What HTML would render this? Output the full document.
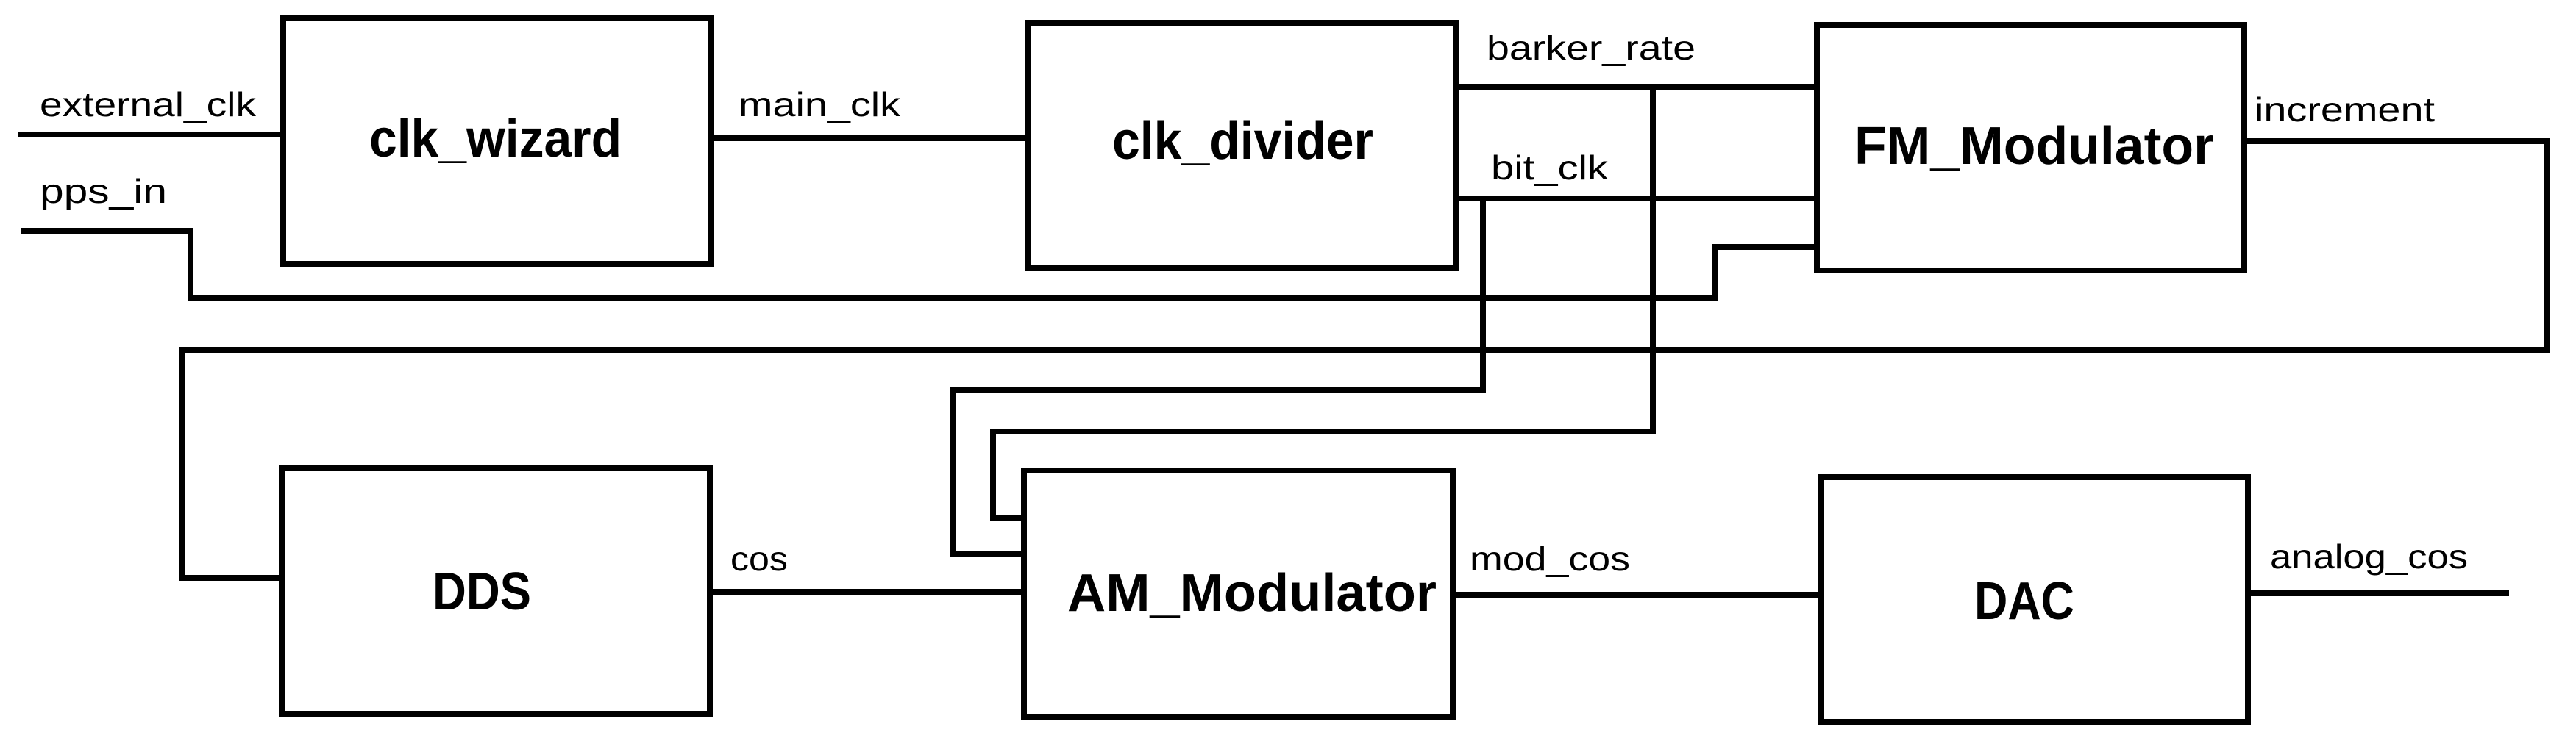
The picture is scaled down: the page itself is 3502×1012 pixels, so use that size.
<!DOCTYPE html>
<html><head><meta charset="utf-8"><style>
html,body{margin:0;padding:0;background:#fff;}
svg{display:block;}
text{font-family:"Liberation Sans",sans-serif;fill:#000;}
.t{font-size:72px;font-weight:bold;}
.l{font-size:46px;}
</style></head><body>
<svg width="3502" height="1012" viewBox="0 0 3502 1012" xmlns="http://www.w3.org/2000/svg">
<g fill="none" stroke="#000" stroke-width="8" stroke-linecap="square" stroke-linejoin="miter">
<rect x="385" y="25" width="581" height="334"/>
<rect x="1397" y="31" width="582" height="334"/>
<rect x="2470" y="34" width="581" height="334"/>
<rect x="383" y="637" width="582" height="334"/>
<rect x="1392" y="640" width="583" height="335"/>
<rect x="2475" y="649" width="581" height="333"/>
<polyline points="28,183 385,183"/>
<polyline points="33,314 259,314 259,405 2331,405 2331,336 2470,336"/>
<polyline points="966,188 1397,188"/>
<polyline points="1979,118 2470,118"/>
<polyline points="1979,270 2470,270"/>
<polyline points="3051,192 3463,192 3463,476 248,476 248,786 383,786"/>
<polyline points="1392,754 1295,754 1295,530 2016,530 2016,272"/>
<polyline points="1392,705 1350,705 1350,587 2247,587 2247,118"/>
<polyline points="965,805 1392,805"/>
<polyline points="1975,809 2475,809"/>
<polyline points="3056,807 3407,807"/>
</g>
<text class="t" x="502" y="213" textLength="343" lengthAdjust="spacingAndGlyphs">clk_wizard</text>
<text class="t" x="1512" y="216" textLength="355" lengthAdjust="spacingAndGlyphs">clk_divider</text>
<text class="t" x="2521" y="223" textLength="489" lengthAdjust="spacingAndGlyphs">FM_Modulator</text>
<text class="t" x="588" y="829" textLength="134" lengthAdjust="spacingAndGlyphs">DDS</text>
<text class="t" x="1451" y="831" textLength="502" lengthAdjust="spacingAndGlyphs">AM_Modulator</text>
<text class="t" x="2684" y="842" textLength="136" lengthAdjust="spacingAndGlyphs">DAC</text>
<text class="l" x="54" y="158" textLength="294" lengthAdjust="spacingAndGlyphs">external_clk</text>
<text class="l" x="54" y="276" textLength="173" lengthAdjust="spacingAndGlyphs">pps_in</text>
<text class="l" x="1004" y="158" textLength="220" lengthAdjust="spacingAndGlyphs">main_clk</text>
<text class="l" x="2021" y="81" textLength="284" lengthAdjust="spacingAndGlyphs">barker_rate</text>
<text class="l" x="2027" y="244" textLength="159" lengthAdjust="spacingAndGlyphs">bit_clk</text>
<text class="l" x="3065" y="165" textLength="245" lengthAdjust="spacingAndGlyphs">increment</text>
<text class="l" x="993" y="776" textLength="78" lengthAdjust="spacingAndGlyphs">cos</text>
<text class="l" x="1998" y="776" textLength="218" lengthAdjust="spacingAndGlyphs">mod_cos</text>
<text class="l" x="3086" y="773" textLength="269" lengthAdjust="spacingAndGlyphs">analog_cos</text>
</svg>
</body></html>
